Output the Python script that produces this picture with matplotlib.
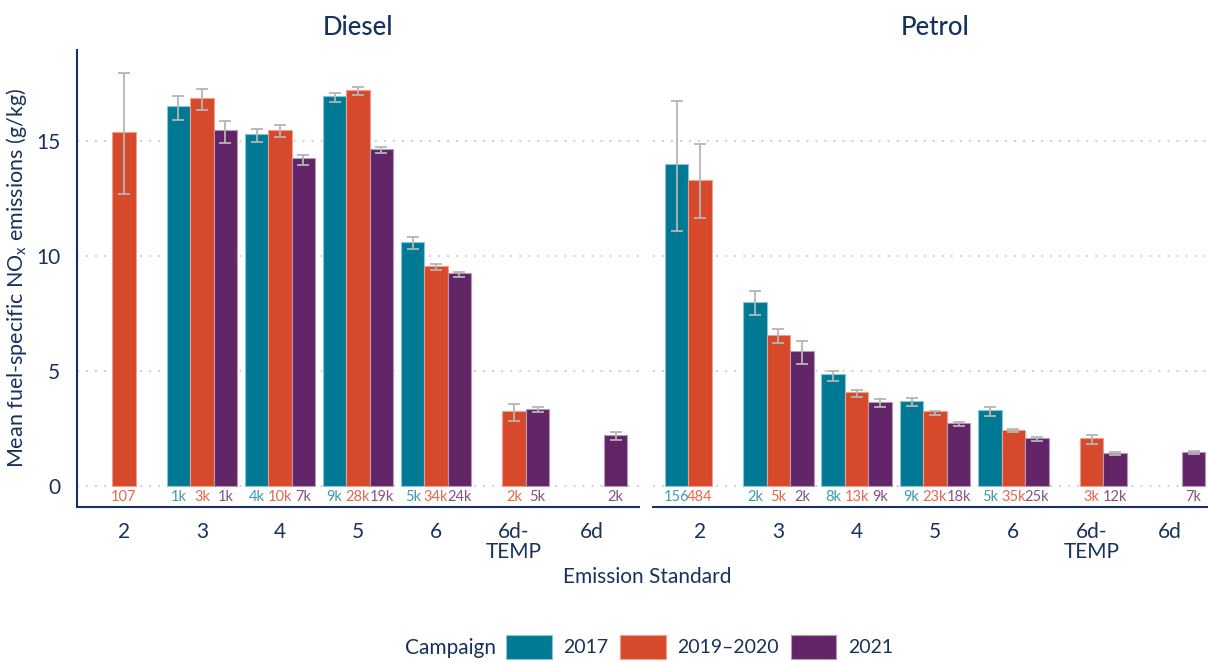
import numpy as np
import matplotlib.pyplot as plt

plt.rcParams["font.family"] = ["Lato", "DejaVu Sans"]
plt.rcParams["mathtext.fontset"] = "custom"
plt.rcParams["mathtext.rm"] = "Lato"

nan = np.nan
standards = ["2", "3", "4", "5", "6", "6d-\nTEMP", "6d"]
campaigns = ["2017", "2019\u20132020", "2021"]

# Diesel means and error limits, one list per campaign
diesel_2017 = [nan, 16.51, 15.29, 16.94, 10.62, nan, nan]
diesel_2019 = [15.41, 16.87, 15.49, 17.22, 9.59, 3.25, nan]
diesel_2021 = [nan, 15.46, 14.25, 14.67, 9.26, 3.36, 2.22]
diesel_lo_2017 = [nan, 15.93, 14.94, 16.70, 10.32, nan, nan]
diesel_hi_2017 = [nan, 16.97, 15.51, 17.10, 10.81, nan, nan]
diesel_lo_2019 = [12.70, 16.35, 15.19, 17.01, 9.39, 2.81, nan]
diesel_hi_2019 = [17.97, 17.27, 15.68, 17.33, 9.67, 3.58, nan]
diesel_lo_2021 = [nan, 14.93, 13.96, 14.47, 9.07, 3.20, 1.99]
diesel_hi_2021 = [nan, 15.88, 14.39, 14.75, 9.32, 3.45, 2.33]
diesel_n_2017 = ["", "1k", "4k", "9k", "5k", "", ""]
diesel_n_2019 = ["107", "3k", "10k", "28k", "34k", "2k", ""]
diesel_n_2021 = ["", "1k", "7k", "19k", "24k", "5k", "2k"]

# Petrol
petrol_2017 = [13.99, 8.01, 4.86, 3.71, 3.29, nan, nan]
petrol_2019 = [13.32, 6.59, 4.07, 3.25, 2.42, 2.07, nan]
petrol_2021 = [nan, 5.87, 3.67, 2.75, 2.07, 1.43, 1.47]
petrol_lo_2017 = [11.09, 7.42, 4.59, 3.49, 3.06, nan, nan]
petrol_hi_2017 = [16.75, 8.49, 5.01, 3.81, 3.42, nan, nan]
petrol_lo_2019 = [11.64, 6.22, 3.87, 3.10, 2.36, 1.83, nan]
petrol_hi_2019 = [14.87, 6.84, 4.17, 3.28, 2.47, 2.20, nan]
petrol_lo_2021 = [nan, 5.32, 3.43, 2.60, 1.94, 1.37, 1.41]
petrol_hi_2021 = [nan, 6.32, 3.78, 2.80, 2.12, 1.49, 1.52]
petrol_n_2017 = ["156", "2k", "8k", "9k", "5k", "", ""]
petrol_n_2019 = ["484", "5k", "13k", "23k", "35k", "3k", ""]
petrol_n_2021 = ["", "2k", "9k", "18k", "25k", "12k", "7k"]

colors = ["#007A94", "#D64A2B", "#622567"]
label_colors = ["#3F9AB0", "#E4684C", "#845288"]
edge_colors = ["#8CC4D0", "#EDA08F", "#B598B8"]
navy = "#17325C"

panels = [
    ("Diesel",
     [diesel_2017, diesel_2019, diesel_2021],
     [diesel_lo_2017, diesel_lo_2019, diesel_lo_2021],
     [diesel_hi_2017, diesel_hi_2019, diesel_hi_2021],
     [diesel_n_2017, diesel_n_2019, diesel_n_2021]),
    ("Petrol",
     [petrol_2017, petrol_2019, petrol_2021],
     [petrol_lo_2017, petrol_lo_2019, petrol_lo_2021],
     [petrol_hi_2017, petrol_hi_2019, petrol_hi_2021],
     [petrol_n_2017, petrol_n_2019, petrol_n_2021]),
]

fig = plt.figure(figsize=(12.08, 6.62), dpi=100)
ax_left = fig.add_axes([77 / 1208, 155 / 662, 562 / 1208, 457 / 662])
ax_right = fig.add_axes([653 / 1208, 155 / 662, 564 / 1208, 457 / 662])

x = np.arange(1, len(standards) + 1)
width = 0.3
offsets = [-width, 0, width]

handles = []
for ax, (title, means, lows, highs, counts) in zip([ax_left, ax_right], panels):
    for i in range(3):
        m = np.array(means[i])
        lo = np.array(lows[i])
        hi = np.array(highs[i])
        xs = x + offsets[i]
        b = ax.bar(xs, m, width, color=colors[i], edgecolor=edge_colors[i],
                   linewidth=0.8, zorder=2, label=campaigns[i])
        if ax is ax_left:
            handles.append(b)
        ok = ~np.isnan(m)
        ax.errorbar(xs[ok], m[ok], yerr=[m[ok] - lo[ok], hi[ok] - m[ok]],
                    fmt="none", ecolor="#B5B5B5", elinewidth=1.3, capsize=4,
                    capthick=1.3, zorder=3)
        for xi, txt in zip(xs, counts[i]):
            if txt:
                ax.text(xi, -0.47, txt, ha="center", va="center",
                        fontsize=10.5, color=label_colors[i])
    ax.set_xlim(0.4, 7.6)
    ax.set_ylim(-0.91, 18.96)
    ax.set_yticks([0, 5, 10, 15])
    ax.yaxis.grid(True, linestyle=(0, (1, 4)), color="#C8C8C8", linewidth=1.3, zorder=0)
    ax.set_axisbelow(True)
    ax.set_xticks(x)
    ax.set_xticklabels(standards, linespacing=1.0)
    ax.tick_params(axis="both", length=0, labelsize=15, labelcolor=navy)
    ax.tick_params(axis="x", pad=11)
    ax.tick_params(axis="y", pad=12)
    for s in ["top", "right"]:
        ax.spines[s].set_visible(False)
    ax.spines["bottom"].set_color(navy)
    ax.spines["bottom"].set_linewidth(1.5)
    ax.spines["left"].set_color(navy)
    ax.spines["left"].set_linewidth(1.5)
    ax.set_title(title, fontsize=18.5, color=navy, pad=11, fontweight="medium")

ax_right.spines["left"].set_visible(False)
ax_right.set_yticklabels([])

ax_left.set_ylabel("Mean fuel-specific NO$_{\\mathrm{x}}$ emissions (g/kg)",
                   fontsize=15.5, color=navy)
ax_left.yaxis.set_label_coords(-0.085, 0.5)

fig.text(647 / 1208, 1 - 577 / 662, "Emission Standard", ha="center", va="center",
         fontsize=15, color=navy)

fig.text(405 / 1208, 1 - 648 / 662, "Campaign", ha="left", va="center",
         fontsize=15, color=navy)
leg = fig.legend(handles=handles, labels=campaigns, loc="center left",
                 bbox_to_anchor=(506 / 1208, 1 - 647 / 662), ncol=3, frameon=False,
                 fontsize=14, handlelength=2.35, handleheight=1.6, handletextpad=0.6,
                 columnspacing=0.6, borderpad=0, borderaxespad=0)
for t in leg.get_texts():
    t.set_color(navy)

fig.savefig("out.png", dpi=100)
